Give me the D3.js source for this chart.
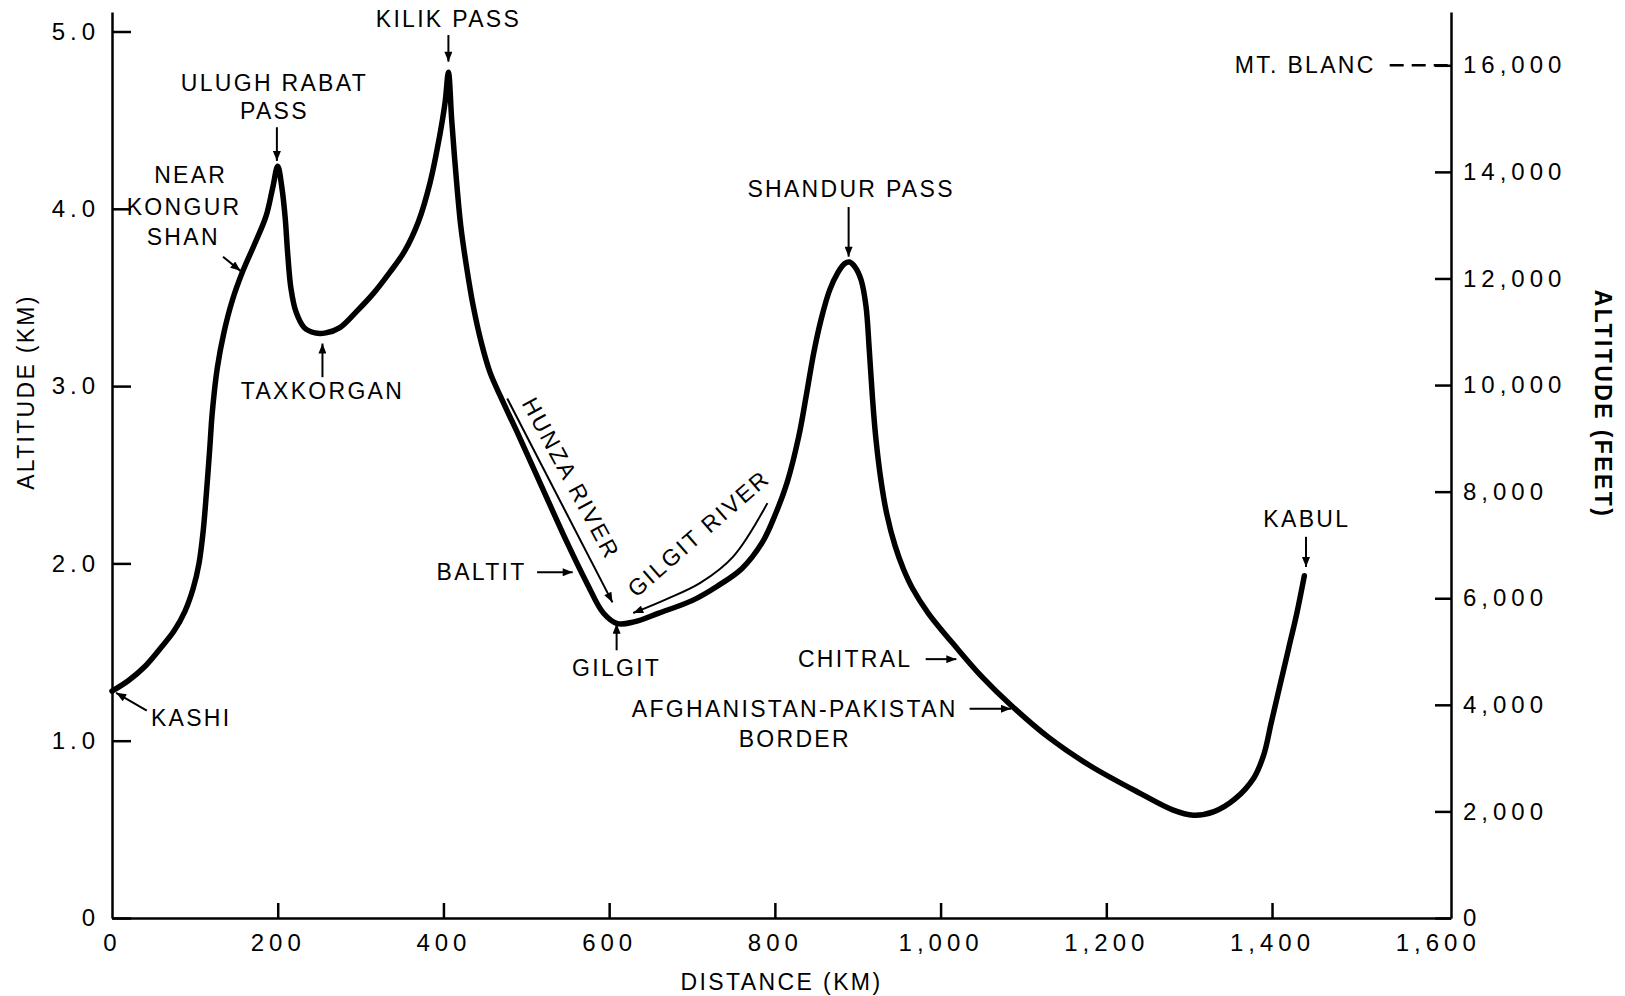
<!DOCTYPE html>
<html>
<head>
<meta charset="utf-8">
<script src="https://cdn.jsdelivr.net/npm/d3@7"></script>
<style>
  body { margin: 0; background: #fff; }
  svg { display: block; }
  text { font-family: "Liberation Sans", Arial, Helvetica, sans-serif; fill: #000; }
</style>
</head>
<body>
<svg width="1625" height="996"></svg>
<script>
// Route profile Kashi -> Kabul.
const distance = [0, 20, 40, 60, 75, 88, 98, 105, 110, 114, 118, 121, 127, 135, 145, 158, 172, 186, 194, 200,
  205, 209, 212, 216, 222, 232, 245, 258, 275, 295, 315, 335, 353, 370, 384, 395, 402, 406,
  410, 415, 421, 428, 436, 446, 456, 469, 489, 517, 549, 573, 593, 610, 630, 660,
  700, 730, 760, 785, 800, 815, 829, 838, 847, 856, 866, 876, 884, 890, 897, 904, 910, 914, 918,
  922, 928, 935, 945, 955, 966, 985, 1020, 1050, 1085, 1130, 1180, 1242, 1280, 1305, 1330, 1355, 1378,
  1390, 1399, 1410, 1420, 1430, 1439];
const altitude = [1.28, 1.34, 1.42, 1.53, 1.62, 1.73, 1.86, 2.00, 2.18, 2.40, 2.65, 2.85, 3.10, 3.30, 3.48, 3.65, 3.80, 3.96, 4.12, 4.24,
  4.12, 3.95, 3.75, 3.55, 3.42, 3.33, 3.30, 3.30, 3.33, 3.42, 3.52, 3.64, 3.76, 3.93, 4.15, 4.40, 4.60, 4.77,
  4.50, 4.20, 3.90, 3.67, 3.45, 3.24, 3.08, 2.94, 2.74, 2.45, 2.12, 1.89, 1.72, 1.66, 1.67, 1.72,
  1.79, 1.87, 1.97, 2.12, 2.27, 2.46, 2.72, 2.95, 3.19, 3.38, 3.54, 3.64, 3.69, 3.70, 3.67, 3.60, 3.45, 3.20, 2.92,
  2.70, 2.47, 2.28, 2.10, 1.97, 1.86, 1.72, 1.52, 1.36, 1.20, 1.02, 0.86, 0.70, 0.61, 0.58, 0.60, 0.67, 0.79,
  0.92, 1.10, 1.32, 1.52, 1.72, 1.93];

const kmTicks = [0, 1, 2, 3, 4, 5];
const feetTicks = [0, 2000, 4000, 6000, 8000, 10000, 12000, 14000, 16000];
const distanceTicks = [0, 200, 400, 600, 800, 1000, 1200, 1400, 1600];

// Place names: text, position in km / altitude km.
const labels = [
  { t: 'KILIK PASS', km: 406, alt: 5.07 },
  { t: 'ULUGH RABAT', km: 196, alt: 4.71 },
  { t: 'PASS', km: 196, alt: 4.55 },
  { t: 'NEAR', km: 95, alt: 4.19 },
  { t: 'KONGUR', km: 87, alt: 4.01 },
  { t: 'SHAN', km: 86, alt: 3.84 },
  { t: 'TAXKORGAN', km: 254, alt: 2.97 },
  { t: 'BALTIT', km: 446, alt: 1.95 },
  { t: 'GILGIT', km: 609, alt: 1.41 },
  { t: 'SHANDUR PASS', km: 892, alt: 4.11 },
  { t: 'CHITRAL', km: 966, alt: 1.46, anchor: 'end' },
  { t: 'AFGHANISTAN-PAKISTAN', km: 824, alt: 1.18 },
  { t: 'BORDER', km: 824, alt: 1.01 },
  { t: 'KABUL', km: 1442, alt: 2.25 },
  { t: 'KASHI', km: 47, alt: 1.13, anchor: 'start' },
  { t: 'MT. BLANC', km: 1525, alt: 4.81, anchor: 'end' },
  { t: 'HUNZA RIVER', km: 554, alt: 2.48, rot: 61.6 },
  { t: 'GILGIT RIVER', km: 708, alt: 2.17, rot: -41 }
];

// Pointer arrows: [from, to] in km / altitude km.
const arrows = [
  [[406, 4.98], [406, 4.83]],
  [[199, 4.46], [199, 4.27]],
  [[134, 3.73], [155, 3.65]],
  [[254, 3.05], [254, 3.24]],
  [[513, 1.95], [556, 1.95]],
  [[609, 1.51], [609, 1.66]],
  [[889, 4.01], [889, 3.73]],
  [[982, 1.46], [1019, 1.46]],
  [[1035, 1.18], [1085, 1.18]],
  [[1441, 2.15], [1441, 1.98]],
  [[42, 1.17], [5, 1.27]],
  [[477, 2.93], [604, 1.78]]
];
const gilgitRiver = [[791, 2.34], [750, 2.04], [710, 1.89], [670, 1.80], [629, 1.72]];
const mtBlanc = 4.81;

const svg = d3.select('svg');
const x = d3.scaleLinear().domain([0, 1616]).range([112, 1451]);
const y = d3.scaleLinear().domain([0, 5.11]).range([918, 12]);
const yFt = d3.scaleLinear().domain([0, 17000]).range([918, 12]);

svg.append('defs').append('marker')
  .attr('id', 'arrow')
  .attr('viewBox', '0 0 10 8')
  .attr('refX', 10).attr('refY', 4)
  .attr('markerWidth', 11).attr('markerHeight', 8)
  .attr('markerUnits', 'userSpaceOnUse')
  .attr('orient', 'auto')
  .append('path').attr('d', 'M0,0L10,4L0,8Z').attr('fill', '#000');

function styleAxis(g) {
  g.attr('font-family', null).attr('font-size', null);
  g.select('.domain').attr('stroke-width', 2.5);
  g.selectAll('.tick line').attr('stroke-width', 2.5);
  g.selectAll('.tick text').attr('font-size', 24).style('letter-spacing', '5px');
}

// Axes.
svg.append('g')
  .attr('transform', 'translate(' + x(0) + ',0)')
  .call(d3.axisLeft(y).tickValues(kmTicks)
    .tickFormat(d => d ? d3.format('.1f')(d) : '0')
    .tickSizeInner(-19).tickSizeOuter(0).tickPadding(12))
  .call(styleAxis);

svg.append('g')
  .attr('transform', 'translate(' + x(1616) + ',0)')
  .call(d3.axisRight(yFt).tickValues(feetTicks)
    .tickFormat(d => d ? d3.format(',')(d) : '0')
    .tickSizeInner(-16).tickSizeOuter(0).tickPadding(12))
  .call(styleAxis);

const xAxis = svg.append('g')
  .attr('transform', 'translate(0,' + y(0) + ')')
  .call(d3.axisBottom(x).tickValues(distanceTicks)
    .tickFormat(d3.format(','))
    .tickSizeInner(-15).tickSizeOuter(0).tickPadding(16))
  .call(styleAxis);
xAxis.selectAll('.tick line').filter(d => d === 0 || d === 1600).remove();

// Axis titles.
svg.append('text')
  .attr('transform', 'translate(' + (x(1616) / 2 + 56) + ',982)')
  .attr('text-anchor', 'middle').attr('dy', '0.35em')
  .attr('font-size', 23).style('letter-spacing', '2.4px')
  .text('DISTANCE (KM)');

svg.append('text')
  .attr('transform', 'translate(26,392) rotate(-90)')
  .attr('text-anchor', 'middle').attr('dy', '0.35em')
  .attr('font-size', 23).style('letter-spacing', '2.3px')
  .text('ALTITUDE (KM)');

svg.append('text')
  .attr('transform', 'translate(1603,404) rotate(90)')
  .attr('text-anchor', 'middle').attr('dy', '0.35em')
  .attr('font-size', 23).attr('font-weight', 'bold').style('letter-spacing', '2.4px')
  .text('ALTITUDE (FEET)');

// Profile.
const profile = distance.map((d, i) => [d, altitude[i]]);
svg.append('path')
  .datum(profile)
  .attr('fill', 'none')
  .attr('stroke', '#000')
  .attr('stroke-width', 5.5)
  .attr('stroke-linecap', 'round')
  .attr('stroke-linejoin', 'round')
  .attr('d', d3.line().x(d => x(d[0])).y(d => y(d[1])).curve(d3.curveCatmullRom.alpha(0.5)));

// Mt. Blanc reference.
svg.append('line')
  .attr('x1', x(1542)).attr('x2', x(1616))
  .attr('y1', y(mtBlanc)).attr('y2', y(mtBlanc))
  .attr('stroke', '#000').attr('stroke-width', 2.5)
  .attr('stroke-dasharray', '14,8');

// Arrows.
svg.selectAll('line.arrow')
  .data(arrows)
  .enter()
  .append('line')
  .attr('class', 'arrow')
  .attr('x1', d => x(d[0][0])).attr('y1', d => y(d[0][1]))
  .attr('x2', d => x(d[1][0])).attr('y2', d => y(d[1][1]))
  .attr('stroke', '#000').attr('stroke-width', 2)
  .attr('marker-end', 'url(#arrow)');

svg.append('path')
  .datum(gilgitRiver)
  .attr('fill', 'none')
  .attr('stroke', '#000').attr('stroke-width', 2)
  .attr('marker-end', 'url(#arrow)')
  .attr('d', d3.line().x(d => x(d[0])).y(d => y(d[1])).curve(d3.curveCatmullRom));

// Labels.
svg.selectAll('text.label')
  .data(labels)
  .enter()
  .append('text')
  .attr('class', 'label')
  .attr('transform', d => 'translate(' + x(d.km) + ',' + y(d.alt) + ')' + (d.rot ? ' rotate(' + d.rot + ')' : ''))
  .attr('text-anchor', d => d.anchor || 'middle')
  .attr('dy', '0.35em')
  .attr('font-size', 23)
  .style('letter-spacing', '2.3px')
  .text(d => d.t);
</script>
</body>
</html>
